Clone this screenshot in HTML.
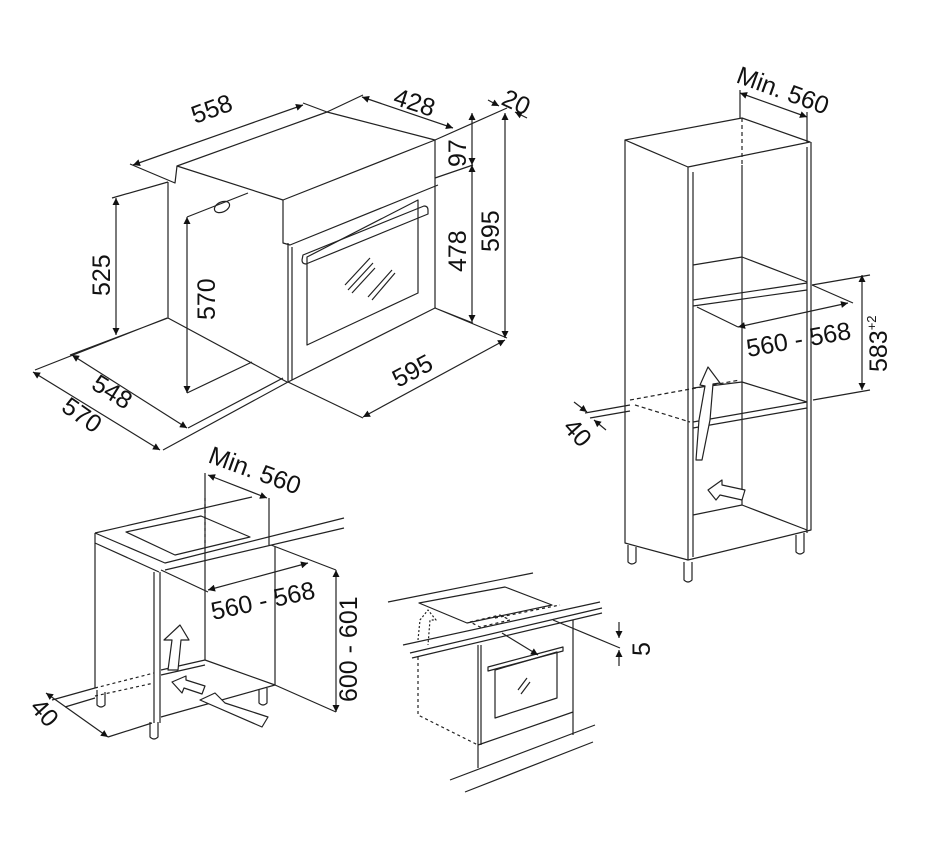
<!DOCTYPE html>
<html><head><meta charset="utf-8"><style>
html,body{margin:0;padding:0;background:#fff}
svg{display:block}
text{font-family:"Liberation Sans",Arial,sans-serif;font-size:25px;fill:#111}
</style></head><body>
<svg width="932" height="860" viewBox="0 0 932 860" xmlns="http://www.w3.org/2000/svg">
<defs>
<marker id="a" viewBox="0 0 10 10" refX="10" refY="5" markerWidth="9" markerHeight="7" orient="auto-start-reverse" markerUnits="userSpaceOnUse"><path d="M0,0L10,5L0,10z" fill="#111"/></marker>
</defs>
<g fill="none" stroke="#222" stroke-width="1.2" stroke-linejoin="round">
<!-- ===== Oven ===== -->
<path d="M177,166 L327,112 L435,140 L283,200 Z" fill="#fff"/>
<path d="M130,164 L175,183 L177,166"/>
<path d="M168,182 L168,318 L287,382"/>
<path d="M283,200 L283,243 L290,245 L438,185"/>
<path d="M435,140 L435,308 L288,382 L288,243"/>
<path d="M292,247 L292,380"/>
<path d="M307,257 L418,200 L418,293 L307,345 Z"/>
<path d="M303,255 L424,206 Q428,206 428,210 L428,214 L306,264 Q302,264 302,260 Z"/>
<path d="M345,285 L370,258 M348,290 L373,263 M352,293 L375,268 M368,297 L392,270 M372,300 L395,273"/>
<ellipse cx="222" cy="207" rx="8" ry="5" transform="rotate(-25 222 207)"/>
<path d="M248,193 L187,217 M252,362 L187,393"/>
<path d="M303,103 L327,112 L363,95"/>
<path d="M435,140 L507,108"/>
<path d="M435,178 L473,165"/>
<path d="M435,308 L507,338 M435,308 L473,323"/>
<path d="M288,382 L363,418"/>
<path d="M112,198 L168,182"/>
<path d="M70,355 L168,318 M35,370 L167,318"/>
<path d="M163,450 L288,382 M188,428 L283,378"/>
<!-- dims -->
<path d="M133,165 L303,105" marker-start="url(#a)" marker-end="url(#a)"/>
<path d="M362,97 L453,128" marker-start="url(#a)" marker-end="url(#a)"/>
<path d="M472,113 L472,165" marker-start="url(#a)" marker-end="url(#a)"/>
<path d="M472,165 L472,322" marker-start="url(#a)" marker-end="url(#a)"/>
<path d="M505,113 L505,338" marker-start="url(#a)" marker-end="url(#a)"/>
<path d="M363,417 L505,340" marker-start="url(#a)" marker-end="url(#a)"/>
<path d="M116,198 L116,335" marker-start="url(#a)" marker-end="url(#a)"/>
<path d="M187,217 L187,393" marker-start="url(#a)" marker-end="url(#a)"/>
<path d="M72,355 L187,428" marker-start="url(#a)" marker-end="url(#a)"/>
<path d="M33,372 L160,450" marker-start="url(#a)" marker-end="url(#a)"/>
<path d="M488,100 L499,106" marker-end="url(#a)"/><path d="M527,118 L515,112" marker-end="url(#a)"/>

<!-- ===== Tall cabinet ===== -->
<path d="M625,140 L742,118 L810,142 L688,167 Z"/>
<path d="M625,140 L625,543 L688,560 L811,530 L811,142"/>
<path d="M688,167 L688,560 M693,172 L693,557 M807,147 L807,533"/>
<path d="M742,118 L742,165" stroke-dasharray="4,3"/>
<path d="M742,165 L742,505"/>
<path d="M693,265 L742,257 L807,282 M693,300 L807,283 M693,306 L807,290"/>
<path d="M693,388 L742,382 L807,402 M693,422 L807,402 M693,428 L807,408"/>
<path d="M693,515 L742,505 L807,530"/>
<path d="M628,545 L628,562 Q632,566 636,562 L636,547 M684,562 L684,580 Q688,584 692,580 L692,562 M796,535 L796,552 Q800,556 804,552 L804,533"/>
<path d="M740,90 L740,118 M807,112 L807,142"/>
<path d="M740,93 L807,117" marker-start="url(#a)" marker-end="url(#a)"/>
<path d="M697,307 L738,327 M812,285 L853,303"/>
<path d="M738,327 L848,303" marker-start="url(#a)" marker-end="url(#a)"/>
<path d="M812,285 L870,275 M813,400 L870,390"/>
<path d="M862,275 L862,390" marker-start="url(#a)" marker-end="url(#a)"/>
<path d="M585,413 L630,405"/>
<path d="M590,418 L630,411"/>
<path d="M630,400 L740,380 M635,405 L690,422" stroke-dasharray="4,3"/>
<path d="M574,402 L587,412" marker-end="url(#a)"/><path d="M606,430 L594,420" marker-end="url(#a)"/>
<path d="M700,385 L708,367 L720,383 L713,384 L710,420 L702,460 L696,460 L699,420 L705,386 Z" fill="#fff"/>
<path d="M708,490 L722,480 L722,485 L745,490 L742,500 L720,495 L716,500 Z" fill="#fff"/>

<!-- ===== Base cabinet ===== -->
<path d="M95,533 L252,497 M95,533 L165,563 L344,518 M95,533 L95,543 L159,572 M165,570 L344,528"/>
<path d="M126,532 L201,516 L250,537 L175,555 Z"/>
<path d="M95,543 L95,688 M154,572 L154,723 M160,572 L160,723"/>
<path d="M275,547 L275,685"/>
<path d="M205,473 L205,530 M205,530 L205,560" /><path d="M205,498 L205,545" stroke-dasharray="3,3"/>
<path d="M205,560 L205,660 M269,498 L269,545"/>
<path d="M208,475 L267,498" marker-start="url(#a)" marker-end="url(#a)"/>
<path d="M161,570 L208,592"/>
<path d="M208,590 L308,563" marker-start="url(#a)" marker-end="url(#a)"/>
<path d="M271,545 L336,570 M275,685 L336,712"/>
<path d="M336,570 L336,712" marker-start="url(#a)" marker-end="url(#a)"/>
<path d="M161,670 L205,660 L275,685 L161,717"/>
<path d="M161,675 L205,665"/>
<path d="M52,700 L95,688 M65,707 L95,698 M108,737 L152,723"/>
<path d="M95,688 L154,673 M95,696 L154,683" stroke-dasharray="3,3"/>
<path d="M46,693 L108,737" marker-start="url(#a)" marker-end="url(#a)"/>
<path d="M97,690 L97,705 Q101,709 105,705 L105,692 M150,722 L150,737 Q154,741 158,737 L158,722 M259,690 L259,703 Q263,707 267,703 L267,688"/>
<path d="M168,670 L172,640 L164,640 L180,625 L189,640 L181,640 L178,670 Z" fill="#fff"/>
<path d="M172,682 L186,676 L186,680 L205,686 L202,694 L184,688 L182,693 Z" fill="#fff"/>
<path d="M200,700 L215,693 L225,703 L268,717 L262,727 Z" fill="#fff"/>

<!-- ===== Oven under counter ===== -->
<path d="M388,602 L533,573"/>
<path d="M419,603 L505,587 L552,605 L467,623 Z"/>
<path d="M403,645 L600,602 M410,653 L602,608 M412,658 L602,613"/>
<path d="M470,622 L500,615 L510,620 L480,627 Z M495,618 L560,605" stroke-dasharray="3,3"/>
<path d="M478,645 L478,768 M481,645 L481,745 M573,620 L573,735 M478,745 L573,712"/>
<path d="M418,657 L418,715 L478,745" stroke-dasharray="3,3"/>
<path d="M418,640 L420,620 L428,610 L436,620 L430,620 L428,645" stroke-dasharray="2,2"/>
<path d="M495,670 L557,652 L557,698 L495,718 Z"/>
<path d="M488,667 L563,647 L563,651 L488,671 Z"/>
<path d="M518,690 L527,678 M521,694 L530,682"/>
<path d="M450,780 L595,725 M465,792 L593,742"/>
<path d="M553,620 L620,648"/>
<path d="M619,622 L619,638" marker-end="url(#a)"/><path d="M619,666 L619,650" marker-end="url(#a)"/>
<path d="M502,633 L538,655" marker-end="url(#a)"/>
</g>
<!-- texts -->
<text transform="translate(195,124) rotate(-20)">558</text>
<text transform="translate(392,104) rotate(18)">428</text>
<text transform="translate(500,104) rotate(25)">20</text>
<text transform="translate(466,167) rotate(-90)">97</text>
<text transform="translate(466,272) rotate(-90)">478</text>
<text transform="translate(499,252) rotate(-90)">595</text>
<text transform="translate(398,388) rotate(-28)">595</text>
<text transform="translate(110,296) rotate(-90)">525</text>
<text transform="translate(215,320) rotate(-90)">570</text>
<text transform="translate(90,388) rotate(32)">548</text>
<text transform="translate(60,410) rotate(35)">570</text>
<text transform="translate(735,82) rotate(20)">Min. 560</text>
<text transform="translate(748,357) rotate(-10)">560 - 568</text>
<text transform="translate(887,372) rotate(-90)">583<tspan font-size="13" dy="-11">+2</tspan></text>
<text transform="translate(562,428) rotate(48)">40</text>
<text transform="translate(207,462) rotate(20)">Min. 560</text>
<text transform="translate(213,620) rotate(-12)">560 - 568</text>
<text transform="translate(357,702) rotate(-90)">600 - 601</text>
<text transform="translate(29,708) rotate(48)">40</text>
<text transform="translate(650,656) rotate(-90)">5</text>
</svg>
</body></html>
